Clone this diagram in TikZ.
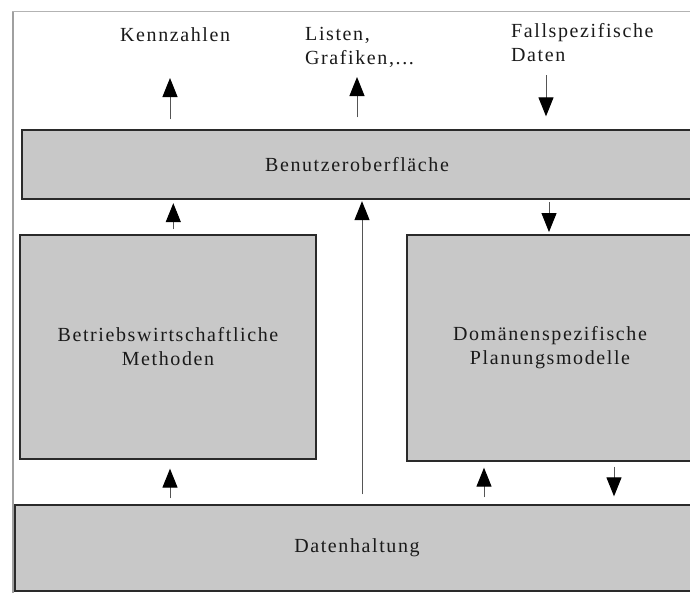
\documentclass[tikz,border=0pt]{standalone}
\usepackage{fontspec}
\usetikzlibrary{arrows.meta}
\newfontfamily\diafont[LetterSpace=8]{Liberation Serif}
\definecolor{boxfill}{HTML}{C8C8C8}
\definecolor{boxline}{HTML}{2A2A2A}
\definecolor{shaft}{HTML}{555555}
\definecolor{framecol}{HTML}{A0A0A0}
\definecolor{txt}{HTML}{1A1A1A}
\tikzset{
  diatext/.style={font=\diafont\fontsize{20}{24}\selectfont, text=txt, inner sep=0pt},
  box/.style={diatext, draw=boxline, fill=boxfill, line width=1.3pt, align=center},
  arr/.style={draw=shaft, line width=1pt, -{Triangle[width=15pt,length=19pt,color=black]}}
}
\begin{document}
\begin{tikzpicture}[x=1pt,y=-1pt]
\useasboundingbox (0,0) rectangle (690,592);
% frame
\draw[framecol, line width=2pt] (13,593) -- (13,11);
\draw[framecol!80, line width=1pt] (12,11) -- (692,11);
% boxes
\node[box, minimum width=670pt, minimum height=69pt] (ui) at (357,164.5) {Benutzeroberfläche};
\node[box, minimum width=296pt, minimum height=224pt] (bw) at (168,347) {Betriebswirtschaftliche\\Methoden};
\node[box, minimum width=286pt, minimum height=226pt] (dp) at (550,348) {Domänenspezifische\\Planungsmodelle};
\node[box, minimum width=684pt, minimum height=86pt] (dh) at (357,548) {Datenhaltung};
% top labels
\node[diatext, anchor=base west] (kz) at (120,41.7) {Kennzahlen};
\node[diatext, anchor=north west, align=left] (lg) at (305,23.9) {\strut Listen,\\\strut Grafiken,...};
\node[diatext, anchor=north west, align=left] (fd) at (511,20.9) {\strut Fallspezifische\\\strut Daten};
% arrow end coordinates
\coordinate (a1) at (170,78);
\coordinate (a2) at (357,77);
\coordinate (a3) at (546,75);
\coordinate (x4) at (173.3,0);
\coordinate (x5) at (362,0);
\coordinate (x6) at (549,0);
\coordinate (x7) at (170,0);
\coordinate (x8) at (484,0);
\coordinate (x9) at (614,0);
% arrows to/from the top
\draw[arr, shorten <=10pt] (ui.north -| a1) -- (a1);
\draw[arr, shorten <=12pt] (ui.north -| a2) -- (a2);
\draw[arr, shorten >=13pt] (a3) -- (ui.north -| a3);
% arrows between boxes
\draw[arr, shorten <=5pt, shorten >=3.5pt] (bw.north -| x4) -- (ui.south -| x4);
\draw[arr, shorten <=10pt, shorten >=1.5pt] (dh.north -| x5) -- (ui.south -| x5);
\draw[arr, shorten <=2.7pt, shorten >=2.3pt] (ui.south -| x6) -- (dp.north -| x6);
\draw[arr, shorten <=6pt, shorten >=9pt] (dh.north -| x7) -- (bw.south -| x7);
\draw[arr, shorten <=7pt, shorten >=6pt] (dh.north -| x8) -- (dp.south -| x8);
\draw[arr, shorten <=5pt, shorten >=8pt] (dp.south -| x9) -- (dh.north -| x9);
\end{tikzpicture}
\end{document}
